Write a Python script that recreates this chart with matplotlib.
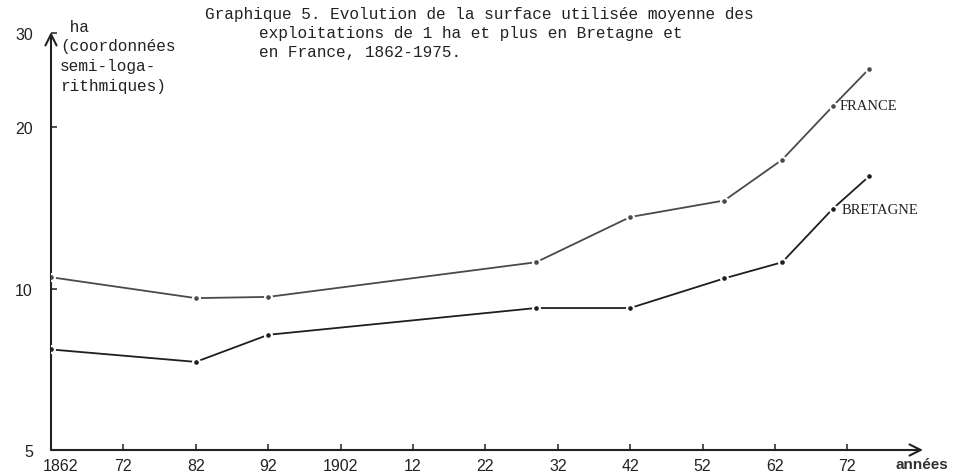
import matplotlib
matplotlib.use("Agg")
import matplotlib.pyplot as plt
from matplotlib.transforms import ScaledTranslation

# ---- data ----
years_france = [1862, 1882, 1892, 1929, 1942, 1955, 1963, 1970, 1975]
ha_france = [10.5, 9.6, 9.65, 11.2, 13.6, 14.6, 17.4, 21.9, 25.7]
years_bretagne = [1862, 1882, 1892, 1929, 1942, 1955, 1963, 1970, 1975]
ha_bretagne = [7.7, 7.3, 8.2, 9.2, 9.2, 10.45, 11.2, 14.1, 16.2]
xtick_vals = [1862, 1872, 1882, 1892, 1902, 1912, 1922, 1932, 1942, 1952, 1962, 1972]
xtick_labels = ['1862', '72', '82', '92', '1902', '12', '22', '32', '42', '52', '62', '72']
ytick_vals = [5, 10, 20, 30]
ytick_labels = ['5', '10', '20', '30']
title_lines = ["Graphique 5. Evolution de la surface utilisée moyenne des",
               "exploitations de 1 ha et plus en Bretagne et",
               "en France, 1862-1975."]
ylabel_lines = [" ha", "(coordonnées", "semi-loga-", "rithmiques)"]

W, H = 958, 477
fig = plt.figure(figsize=(W / 100, H / 100), dpi=100)
fig.patch.set_facecolor('white')

def fx(px):
    return px / W

def fy(py):
    return 1 - py / H

left_px, right_px, bottom_px, top_px = 51, 923, 451, 33
ax = fig.add_axes([fx(left_px), fy(bottom_px), fx(right_px) - fx(left_px), fy(top_px) - fy(bottom_px)])
ax.set_facecolor('none')
ax.set_yscale('log')
px_per_year = 7.24
ax.set_xlim(1862, 1862 + (right_px - left_px) / px_per_year)
ax.set_ylim(5, 10 * 2 ** ((289 - top_px) / 161))

for s in ax.spines.values():
    s.set_visible(False)

# axes with arrows
axis_col = '#222222'
ax.annotate('', xy=(1, 0), xytext=(0, 0), xycoords='axes fraction',
            arrowprops=dict(arrowstyle='->,head_length=0.8,head_width=0.4', lw=1.5, color=axis_col,
                            shrinkA=0, shrinkB=0), annotation_clip=False)
ax.annotate('', xy=(0, 1), xytext=(0, 0), xycoords='axes fraction',
            arrowprops=dict(arrowstyle='->,head_length=0.8,head_width=0.4', lw=1.5, color=axis_col,
                            shrinkA=0, shrinkB=0), annotation_clip=False)

# series
def draw(xs, ys, col):
    ax.plot(xs, ys, color=col, lw=1.3, solid_capstyle='butt', zorder=2)
    ax.plot(xs, ys, ls='none', marker='o', ms=5.5, mfc='white', mec='white', zorder=3)
    ax.plot(xs, ys, ls='none', marker='o', ms=2.3, mfc=col, mec=col, zorder=4)

draw(years_france, ha_france, '#4a4a4a')
draw(years_bretagne, ha_bretagne, '#1e1e1e')

# ticks
ax.minorticks_off()
ax.set_xticks(xtick_vals)
ax.set_xticklabels(xtick_labels, family='Liberation Sans', fontsize=11.5, color='#222222')
ax.set_yticks(ytick_vals)
ax.set_yticklabels(ytick_labels, family='Liberation Sans', fontsize=11.5, color='#222222')
ax.tick_params(axis='x', direction='in', length=4, width=1.2, colors='#333333', pad=6,
               labelcolor='#222222')
ax.tick_params(axis='y', direction='in', length=4, width=1.2, colors='#333333', pad=13,
               labelcolor='#222222')
lab0 = ax.get_xticklabels()[0]
lab0.set_transform(lab0.get_transform() + ScaledTranslation(9 / 100, 0, fig.dpi_scale_trans))

# title (typewriter)
mono = 'Liberation Mono'
fs_mono = 11.6
fig.text(fx(205), fy(15), title_lines[0], family=mono, fontsize=fs_mono, va='center', ha='left', color='#222222')
fig.text(fx(259), fy(33.5), title_lines[1], family=mono, fontsize=fs_mono, va='center', ha='left', color='#222222')
fig.text(fx(259), fy(52), title_lines[2], family=mono, fontsize=fs_mono, va='center', ha='left', color='#222222')

# y unit label
ys_lab = [27, 47, 67, 87]
for t, yy in zip(ylabel_lines, ys_lab):
    fig.text(fx(60), fy(yy), t, family=mono, fontsize=fs_mono, va='center', ha='left', color='#222222')

# series labels
fig.text(fx(840), fy(107), 'FRANCE', family='Liberation Serif', fontsize=10.5, va='center', ha='left', color='#222222')
fig.text(fx(842), fy(210), 'BRETAGNE', family='Liberation Serif', fontsize=10.5, va='center', ha='left', color='#222222')

# x unit label
fig.text(fx(895), fy(465), 'années', family='Liberation Sans', fontsize=11, fontweight='bold',
         va='center', ha='left', color='#333333')

fig.savefig('out.png', dpi=100, facecolor='white')
